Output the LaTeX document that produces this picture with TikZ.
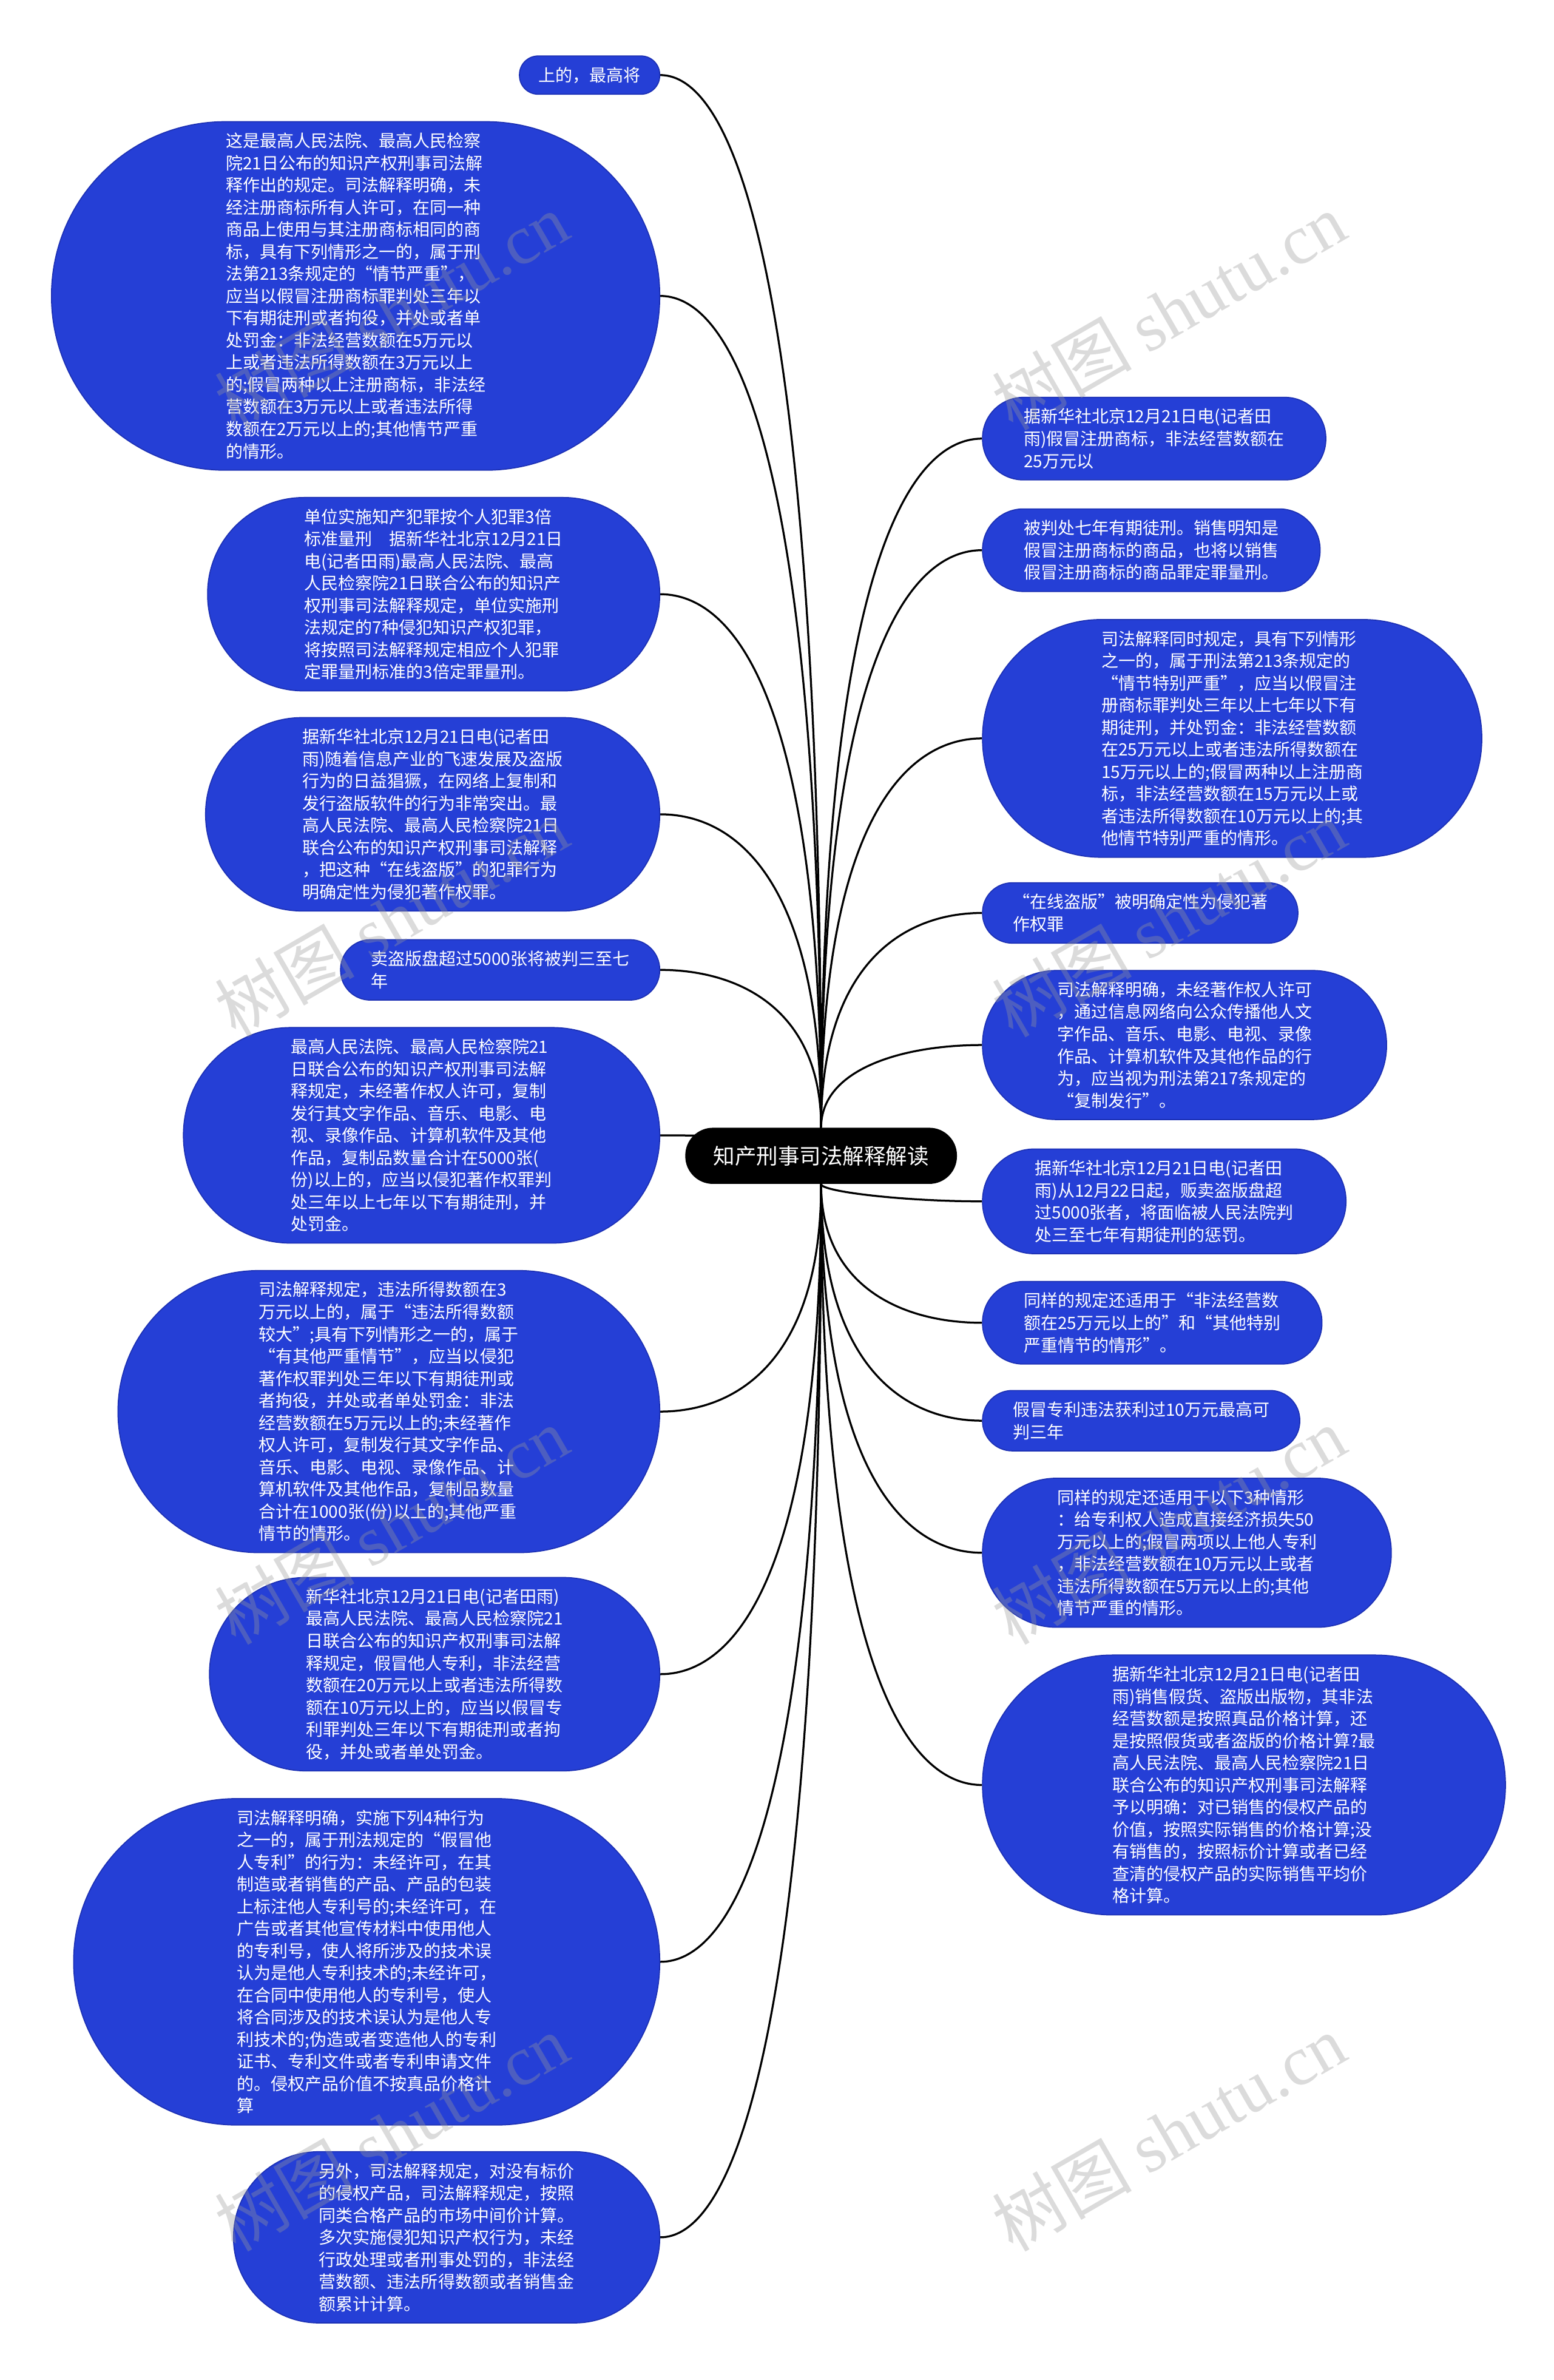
\documentclass[tikz,border=0pt]{standalone}
\usepackage{fontspec}
\usepackage{tikz}
\usetikzlibrary{calc,backgrounds}
\newfontfamily\cjk{Noto Sans CJK SC}
\newfontfamily\wmlatin{Liberation Serif}
\tikzset{
  leaf/.style={rectangle,draw=leafEdge,line width=0.7pt,fill=leafFill,text=white,align=left,inner ysep=7pt,inner xsep={(#1*14.6+10.6)/2},minimum height={#1*14.6+10.6},rounded corners={(#1*14.6+10.6)/2-0.3},font=\cjk\fontsize{11.2}{14.6}\selectfont},
  hub/.style={rectangle,fill=black,text=white,inner ysep=9pt,inner xsep=18.5pt,minimum height=37pt,rounded corners=18.2pt,font=\cjk\fontsize{14.2}{17}\selectfont},
  link/.style={draw=black,line width=1.3pt},
  branch/.style={to path={.. controls ($(\tikztostart)!0.78!(\tikztostart |- \tikztotarget)$) and ($(\tikztotarget)!0.5!(\tikztotarget -| \tikztostart)$) .. (\tikztotarget)}},
  wmtext/.style={rotate=30,text=black!40,text opacity=0.35,inner sep=0pt}
}
\begin{document}
\begin{tikzpicture}[x=1pt,y=1pt]
\definecolor{leafFill}{RGB}{37,63,214}
\definecolor{leafEdge}{RGB}{28,48,180}
\path[use as bounding box] (0,0) rectangle (1023.5,1568);

\node[hub] (hub) at (541,806.5) {知产刑事司法解释解读};

\node[leaf=1,anchor=east] (l1) at (435,1518.5) {上的，最高将};

\node[leaf=15,anchor=east] (l2) at (435,1373) {这是最高人民法院、最高人民检察\\院21日公布的知识产权刑事司法解\\释作出的规定。司法解释明确，未\\经注册商标所有人许可，在同一种\\商品上使用与其注册商标相同的商\\标，具有下列情形之一的，属于刑\\法第213条规定的“情节严重”，\\应当以假冒注册商标罪判处三年以\\下有期徒刑或者拘役，并处或者单\\处罚金：非法经营数额在5万元以\\上或者违法所得数额在3万元以上\\的;假冒两种以上注册商标，非法经\\营数额在3万元以上或者违法所得\\数额在2万元以上的;其他情节严重\\的情形。};

\node[leaf=8,anchor=east] (l3) at (435,1176.5) {单位实施知产犯罪按个人犯罪3倍\\标准量刑　据新华社北京12月21日\\电(记者田雨)最高人民法院、最高\\人民检察院21日联合公布的知识产\\权刑事司法解释规定，单位实施刑\\法规定的7种侵犯知识产权犯罪，\\将按照司法解释规定相应个人犯罪\\定罪量刑标准的3倍定罪量刑。};

\node[leaf=8,anchor=east] (l4) at (435,1031.5) {据新华社北京12月21日电(记者田\\雨)随着信息产业的飞速发展及盗版\\行为的日益猖獗，在网络上复制和\\发行盗版软件的行为非常突出。最\\高人民法院、最高人民检察院21日\\联合公布的知识产权刑事司法解释\\，把这种“在线盗版”的犯罪行为\\明确定性为侵犯著作权罪。};

\node[leaf=2,anchor=east] (l5) at (435,929) {卖盗版盘超过5000张将被判三至七\\年};

\node[leaf=9,anchor=east] (l6) at (435,820) {最高人民法院、最高人民检察院21\\日联合公布的知识产权刑事司法解\\释规定，未经著作权人许可，复制\\发行其文字作品、音乐、电影、电\\视、录像作品、计算机软件及其他\\作品，复制品数量合计在5000张(\\份)以上的，应当以侵犯著作权罪判\\处三年以上七年以下有期徒刑，并\\处罚金。};

\node[leaf=12,anchor=east] (l7) at (435,638) {司法解释规定，违法所得数额在3\\万元以上的，属于“违法所得数额\\较大”;具有下列情形之一的，属于\\“有其他严重情节”，应当以侵犯\\著作权罪判处三年以下有期徒刑或\\者拘役，并处或者单处罚金：非法\\经营数额在5万元以上的;未经著作\\权人许可，复制发行其文字作品、\\音乐、电影、电视、录像作品、计\\算机软件及其他作品，复制品数量\\合计在1000张(份)以上的;其他严重\\情节的情形。};

\node[leaf=8,anchor=east] (l8) at (435,465) {新华社北京12月21日电(记者田雨)\\最高人民法院、最高人民检察院21\\日联合公布的知识产权刑事司法解\\释规定，假冒他人专利，非法经营\\数额在20万元以上或者违法所得数\\额在10万元以上的，应当以假冒专\\利罪判处三年以下有期徒刑或者拘\\役，并处或者单处罚金。};

\node[leaf=14,anchor=east] (l9) at (435,275.5) {司法解释明确，实施下列4种行为\\之一的，属于刑法规定的“假冒他\\人专利”的行为：未经许可，在其\\制造或者销售的产品、产品的包装\\上标注他人专利号的;未经许可，在\\广告或者其他宣传材料中使用他人\\的专利号，使人将所涉及的技术误\\认为是他人专利技术的;未经许可，\\在合同中使用他人的专利号，使人\\将合同涉及的技术误认为是他人专\\利技术的;伪造或者变造他人的专利\\证书、专利文件或者专利申请文件\\的。侵权产品价值不按真品价格计\\算};

\node[leaf=7,anchor=east] (l10) at (435,94) {另外，司法解释规定，对没有标价\\的侵权产品，司法解释规定，按照\\同类合格产品的市场中间价计算。\\多次实施侵犯知识产权行为，未经\\行政处理或者刑事处罚的，非法经\\营数额、违法所得数额或者销售金\\额累计计算。};

\node[leaf=3,anchor=west] (r1) at (647,1279) {据新华社北京12月21日电(记者田\\雨)假冒注册商标，非法经营数额在\\25万元以};

\node[leaf=3,anchor=west] (r2) at (647,1205.5) {被判处七年有期徒刑。销售明知是\\假冒注册商标的商品，也将以销售\\假冒注册商标的商品罪定罪量刑。};

\node[leaf=10,anchor=west] (r3) at (647,1081.5) {司法解释同时规定，具有下列情形\\之一的，属于刑法第213条规定的\\“情节特别严重”，应当以假冒注\\册商标罪判处三年以上七年以下有\\期徒刑，并处罚金：非法经营数额\\在25万元以上或者违法所得数额在\\15万元以上的;假冒两种以上注册商\\标，非法经营数额在15万元以上或\\者违法所得数额在10万元以上的;其\\他情节特别严重的情形。};

\node[leaf=2,anchor=west] (r4) at (647,966.5) {“在线盗版”被明确定性为侵犯著\\作权罪};

\node[leaf=6,anchor=west] (r5) at (647,879.5) {司法解释明确，未经著作权人许可\\，通过信息网络向公众传播他人文\\字作品、音乐、电影、电视、录像\\作品、计算机软件及其他作品的行\\为，应当视为刑法第217条规定的\\“复制发行”。};

\node[leaf=4,anchor=west] (r6) at (647,776.5) {据新华社北京12月21日电(记者田\\雨)从12月22日起，贩卖盗版盘超\\过5000张者，将面临被人民法院判\\处三至七年有期徒刑的惩罚。};

\node[leaf=3,anchor=west] (r7) at (647,696.5) {同样的规定还适用于“非法经营数\\额在25万元以上的”和“其他特别\\严重情节的情形”。};

\node[leaf=2,anchor=west] (r8) at (647,632) {假冒专利违法获利过10万元最高可\\判三年};

\node[leaf=6,anchor=west] (r9) at (647,545) {同样的规定还适用于以下3种情形\\：给专利权人造成直接经济损失50\\万元以上的;假冒两项以上他人专利\\，非法经营数额在10万元以上或者\\违法所得数额在5万元以上的;其他\\情节严重的情形。};

\node[leaf=11,anchor=west] (r10) at (647,392) {据新华社北京12月21日电(记者田\\雨)销售假货、盗版出版物，其非法\\经营数额是按照真品价格计算，还\\是按照假货或者盗版的价格计算?最\\高人民法院、最高人民检察院21日\\联合公布的知识产权刑事司法解释\\予以明确：对已销售的侵权产品的\\价值，按照实际销售的价格计算;没\\有销售的，按照标价计算或者已经\\查清的侵权产品的实际销售平均价\\格计算。};

\begin{scope}[on background layer]
\draw[link] (hub) to[branch] (l1.east);
\draw[link] (hub) to[branch] (l2.east);
\draw[link] (hub) to[branch] (l3.east);
\draw[link] (hub) to[branch] (l4.east);
\draw[link] (hub) to[branch] (l5.east);
\draw[link] (hub) to[branch] (l6.east);
\draw[link] (hub) to[branch] (l7.east);
\draw[link] (hub) to[branch] (l8.east);
\draw[link] (hub) to[branch] (l9.east);
\draw[link] (hub) to[branch] (l10.east);
\draw[link] (hub) to[branch] (r1.west);
\draw[link] (hub) to[branch] (r2.west);
\draw[link] (hub) to[branch] (r3.west);
\draw[link] (hub) to[branch] (r4.west);
\draw[link] (hub) to[branch] (r5.west);
\draw[link] (hub) to[branch] (r6.west);
\draw[link] (hub) to[branch] (r7.west);
\draw[link] (hub) to[branch] (r8.west);
\draw[link] (hub) to[branch] (r9.west);
\draw[link] (hub) to[branch] (r10.west);
\end{scope}

% watermark
\node[wmtext] (wm1) at (258,1363) {\cjk\fontsize{46}{46}\selectfont 树图 \wmlatin shutu.cn};
\node[wmtext] (wm2) at (770,1363) {\cjk\fontsize{46}{46}\selectfont 树图 \wmlatin shutu.cn};
\node[wmtext] (wm3) at (258,963) {\cjk\fontsize{46}{46}\selectfont 树图 \wmlatin shutu.cn};
\node[wmtext] (wm4) at (770,963) {\cjk\fontsize{46}{46}\selectfont 树图 \wmlatin shutu.cn};
\node[wmtext] (wm5) at (258,563) {\cjk\fontsize{46}{46}\selectfont 树图 \wmlatin shutu.cn};
\node[wmtext] (wm6) at (770,563) {\cjk\fontsize{46}{46}\selectfont 树图 \wmlatin shutu.cn};
\node[wmtext] (wm7) at (258,163) {\cjk\fontsize{46}{46}\selectfont 树图 \wmlatin shutu.cn};
\node[wmtext] (wm8) at (770,163) {\cjk\fontsize{46}{46}\selectfont 树图 \wmlatin shutu.cn};
\end{tikzpicture}
\end{document}
